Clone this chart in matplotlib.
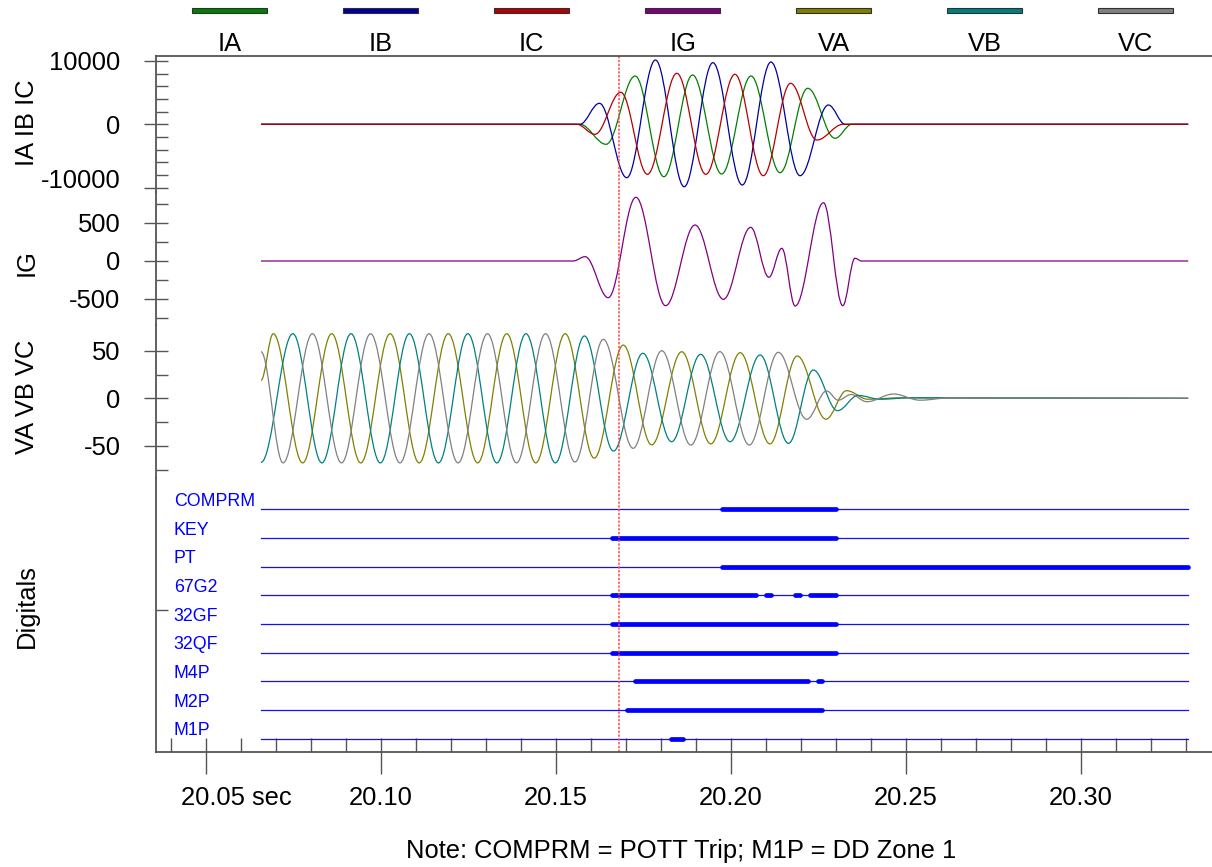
# Relay event report: currents, ground current, voltages and digitals
import matplotlib
matplotlib.use("Agg")
import matplotlib.pyplot as plt
from matplotlib.path import Path
from matplotlib.patches import PathPatch, Rectangle
from matplotlib.transforms import ScaledTranslation

plt.rcParams['font.family'] = ['Liberation Sans', 'DejaVu Sans']

# ---- data (times in s, extrema of each trace) ----
IA_T = [20.0658, 20.1569, 20.1644, 20.1727, 20.1809, 20.1891, 20.1974, 20.2058, 20.2141, 20.2220, 20.2298, 20.2346, 20.3307]
IA_V = [0, 0, -3160, 7630, -8278, 7788, -7852, 7630, -7646, 5687, -2212, 0, 0]
IB_T = [20.0658, 20.1569, 20.1625, 20.1703, 20.1785, 20.1867, 20.1949, 20.2033, 20.2115, 20.2198, 20.2279, 20.2327, 20.3307]
IB_V = [0, 0, 3317, -8436, 10158, -9858, 9732, -9590, 9842, -8120, 3049, 0, 0]
IC_T = [20.0658, 20.1560, 20.1612, 20.1686, 20.1762, 20.1846, 20.1929, 20.2012, 20.2093, 20.2171, 20.2246, 20.2321, 20.3307]
IC_V = [0, 0, -1580, 5055, -7900, 8057, -7900, 7900, -8120, 6477, -2480, 0, 0]

IG_T = [20.0658, 20.1550, 20.1584, 20.1650, 20.1729, 20.1814, 20.1898, 20.1979, 20.2057, 20.2109, 20.2146, 20.2184, 20.2265, 20.2320, 20.2355, 20.2374, 20.3307]
IG_V = [0, 0, 57, -483, 838, -588, 474, -504, 443, -214, 167, -592, 767, -588, 36, 0, 0]

VA_T = [20.0658, 20.0693, 20.0777, 20.0860, 20.0943, 20.1027, 20.1110, 20.1193, 20.1277, 20.1360, 20.1443, 20.1527, 20.1610,
        20.1693, 20.1774, 20.1860, 20.1943, 20.2027, 20.2112, 20.2190, 20.2272, 20.2331, 20.2392, 20.2484, 20.3307]
VA_V = [19, 68, -68, 68, -68, 68, -68, 68, -68, 68, -68, 68, -63, 56, -49, 49, -48, 48, -48, 44.5, -22, 8, -1, 0.5, 0]
VB_T = [20.0658, 20.0749, 20.0832, 20.0915, 20.0999, 20.1082, 20.1165, 20.1249, 20.1332, 20.1415, 20.1499, 20.1582, 20.1665,
        20.1749, 20.1831, 20.1914, 20.1998, 20.2084, 20.2165, 20.2236, 20.2305, 20.2364, 20.2427, 20.2512, 20.3307]
VB_V = [-67.5, 68, -68, 68, -68, 68, -68, 68, -68, 68, -68, 65.6, -55.5, 47.4, -45.7, 46.3, -45.7, 45.6, -47.4, 29.8, -13, 3, -1, 0.5, 0]
VC_T = [20.0658, 20.0721, 20.0805, 20.0888, 20.0971, 20.1055, 20.1138, 20.1221, 20.1305, 20.1388, 20.1471, 20.1555, 20.1636,
        20.1721, 20.1803, 20.1886, 20.1969, 20.2053, 20.2136, 20.2217, 20.2274, 20.2307, 20.2344, 20.2389, 20.2465, 20.2541,
        20.2627, 20.3307]
VC_V = [49, -68, 68, -68, 68, -68, 68, -68, 68, -68, 68, -67, 62, -52.6, 50.1, -49.2, 49.1, -49.2, 48.4, -22.1, 7.7, -2, 4,
        -3.6, 4.5, -2, 0.5, 0]

DIG_NAMES = ["COMPRM", "KEY", "PT", "67G2", "32GF", "32QF", "M4P", "M2P", "M1P"]
DIG_ON = [
    [(20.1974, 20.2302)],
    [(20.1662, 20.2302)],
    [(20.1974, 20.3307)],
    [(20.1662, 20.2072), (20.2100, 20.2115), (20.2184, 20.2199), (20.2226, 20.2302)],
    [(20.1662, 20.2302)],
    [(20.1662, 20.2302)],
    [(20.1726, 20.2220), (20.2248, 20.2260)],
    [(20.1705, 20.2260)],
    [(20.1829, 20.1865)],
]
T_START, T_END = 20.0658, 20.3307
T_CURSOR = 20.1681

LEGEND_NAMES = ["IA", "IB", "IC", "IG", "VA", "VB", "VC"]
LEGEND_COLORS = ["#008000", "#0000a0", "#b40000", "#800080", "#808000", "#008080", "#808080"]

X_TICKS = [20.05, 20.10, 20.15, 20.20, 20.25, 20.30]
X_LABELS = ["20.05 sec", "20.10", "20.15", "20.20", "20.25", "20.30"]

# ---- layout ----
W, H = 1212, 867
fig = plt.figure(figsize=(W / 100, H / 100), dpi=100)
SPINE = "#555555"
FS = 18.4
XMIN, XMAX = 20.0358, 20.3375


def add_ax(top, bottom, left=156, right=1212):
    ax = fig.add_axes([left / W, 1 - bottom / H, (right - left) / W, (bottom - top) / H])
    ax.set_xlim(XMIN, XMAX)
    ax.patch.set_alpha(0)
    for s in ["right", "top", "bottom"]:
        ax.spines[s].set_visible(False)
    ax.spines["left"].set_color(SPINE)
    ax.spines["left"].set_linewidth(1.3)
    ax.tick_params(axis="x", which="both", bottom=False, labelbottom=False)
    return ax


def set_scale(ax, top, bottom, zero_px, px_per_unit):
    ax.set_ylim(-(bottom - zero_px) / px_per_unit, (zero_px - top) / px_per_unit)


def y_ticks(ax, major, labels, minor):
    ax.set_yticks(major, labels)
    ax.set_yticks(minor, minor=True)
    ax.yaxis.remove_overlapping_locs = False
    ax.tick_params(axis="y", which="major", direction="out", length=9, width=1,
                   color=SPINE, labelsize=FS, pad=16.5)
    ax.tick_params(axis="y", which="minor", direction="in", length=8.6, width=1, color=SPINE)


K = 0.3634  # control-point fraction for a smooth half-cycle between extrema


def wave(ax, t, v, color):
    verts = [(t[0], v[0])]
    codes = [Path.MOVETO]
    for i in range(1, len(t)):
        dt = t[i] - t[i - 1]
        verts += [(t[i - 1] + K * dt, v[i - 1]), (t[i] - K * dt, v[i]), (t[i], v[i])]
        codes += [Path.CURVE4] * 3
    ax.add_patch(PathPatch(Path(verts, codes), fill=False, edgecolor=color, lw=0.9))


# currents
ax_i = add_ax(56, 192)
ax_i.spines["top"].set_visible(True)
ax_i.spines["top"].set_color(SPINE)
ax_i.spines["top"].set_linewidth(1.3)
set_scale(ax_i, 56, 192, 124.3, 0.00633)
y_ticks(ax_i, [10000, 0, -10000], ["10000", "0", "-10000"], list(range(-10000, 10001, 2000)))
wave(ax_i, IA_T, IA_V, LEGEND_COLORS[0])
wave(ax_i, IB_T, IB_V, LEGEND_COLORS[1])
wave(ax_i, IC_T, IC_V, LEGEND_COLORS[2])

# ground current
ax_g = add_ax(192, 325)
set_scale(ax_g, 192, 325, 261, 0.076)
y_ticks(ax_g, [500, 0, -500], ["500", "0", "-500"], [750, 500, 250, 0, -250, -500, -750])
wave(ax_g, IG_T, IG_V, LEGEND_COLORS[3])

# voltages
ax_v = add_ax(325, 478)
set_scale(ax_v, 325, 478, 398.3, 0.95)
y_ticks(ax_v, [50, 0, -50], ["50", "0", "-50"], [50, 25, 0, -25, -50, -75])
wave(ax_v, VA_T, VA_V, LEGEND_COLORS[4])
wave(ax_v, VB_T, VB_V, LEGEND_COLORS[5])
wave(ax_v, VC_T, VC_V, LEGEND_COLORS[6])

# digitals
ax_d = add_ax(478, 752)
ax_d.spines["bottom"].set_visible(True)
ax_d.spines["bottom"].set_color(SPINE)
ax_d.spines["bottom"].set_linewidth(1.3)
row0, row_px = 509.3, 28.67
ax_d.set_ylim((752 - row0) / row_px, (478 - row0) / row_px)
ax_d.set_yticks([(610 - row0) / row_px], [""])
ax_d.tick_params(axis="y", direction="in", length=8.6, width=1, color=SPINE)
for i, name in enumerate(DIG_NAMES):
    ax_d.plot([T_START, T_END], [i, i], color="#1010ff", lw=0.9)
    for a, b in DIG_ON[i]:
        ax_d.plot([a, b], [i, i], color="#0000ff", lw=3.4, solid_capstyle="round")
    ax_d.text(20.0409, i - 3.3 / row_px, name, color="#0000ff", fontsize=12.8,
              ha="left", va="baseline")

ax_d.set_xticks(X_TICKS, X_LABELS)
ax_d.set_xticks([round(20.04 + 0.01 * k, 2) for k in range(30)], minor=True)
ax_d.xaxis.remove_overlapping_locs = False
ax_d.tick_params(axis="x", which="major", bottom=True, labelbottom=True, direction="out",
                 length=15.8, width=1, color=SPINE, labelsize=FS, pad=8.5)
ax_d.tick_params(axis="x", which="minor", bottom=True, direction="in", length=10, width=1, color=SPINE)

# cursor
for ax in (ax_i, ax_g, ax_v, ax_d):
    ax.axvline(T_CURSOR, color="#ff4848", lw=1.1, ls=(0, (1.5, 1)))

# shift a couple of tick labels as in the original
for lab in ax_i.get_yticklabels():
    if lab.get_text() == "-10000":
        lab.set_transform(lab.get_transform() + ScaledTranslation(0, 9.4 / 100, fig.dpi_scale_trans))
first = ax_d.get_xticklabels()[0]
first.set_horizontalalignment("left")
first.set_transform(first.get_transform() + ScaledTranslation(-25 / 100, 0, fig.dpi_scale_trans))

# axis titles
for label, yc in [("IA IB IC", 122.7), ("IG", 263), ("VA VB VC", 396.5), ("Digitals", 606)]:
    fig.text(26.5 / W, 1 - yc / H, label, rotation=90, ha="center", va="center", fontsize=FS)

# legend across the top
for k, (name, c) in enumerate(zip(LEGEND_NAMES, LEGEND_COLORS)):
    cx = 229.8 + 151 * k
    fig.patches.append(Rectangle(((cx - 37.5) / W, 1 - 13.3 / H), 75 / W, 5.3 / H,
                                 transform=fig.transFigure, facecolor=c, edgecolor="#303030", lw=0.8))
    fig.text(cx / W, 1 - 50.7 / H, name, ha="center", va="baseline", fontsize=FS)

fig.text(681 / W, 1 - 858.3 / H, "Note: COMPRM = POTT Trip; M1P = DD Zone 1",
         ha="center", va="baseline", fontsize=FS)

fig.savefig("out.png", dpi=100)
